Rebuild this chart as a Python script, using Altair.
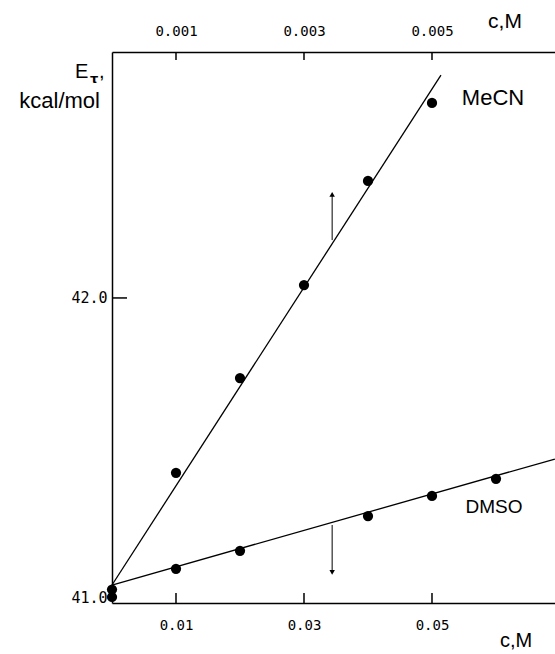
import altair as alt
import pandas as pd

# ---- data ----
mecn_c = [0.0, 0.001, 0.002, 0.003, 0.004, 0.005]          # top axis, c (M)
mecn_e = [41.003, 41.417, 41.733, 42.043, 42.39, 42.65]    # E_T, kcal/mol
dmso_c = [0.0, 0.01, 0.02, 0.04, 0.05, 0.06]               # bottom axis, c (M)
dmso_e = [41.028, 41.097, 41.157, 41.273, 41.34, 41.397]
mecn_fit_c = [0.0, 0.00514]
mecn_fit_e = [41.043, 42.743]
dmso_fit_c = [0.0, 0.0692]
dmso_fit_e = [41.043, 41.463]
top_ticks = [0.001, 0.003, 0.005]
bottom_ticks = [0.01, 0.03, 0.05]
y_ticks = [41.0, 42.0]
y_inner_ticks = [42.0]
arrow_c = [0.0344, 0.0344]
arrow_up_e = [42.193, 42.345]
arrow_down_e = [41.243, 41.085]

W, H = 443, 551
MONO = "DejaVu Sans Mono"
SANS = "Liberation Sans"

x_top_scale = alt.Scale(domain=[0, 0.006922], nice=False, zero=False)
x_bot_scale = alt.Scale(domain=[0, 0.06922], nice=False, zero=False)
y_scale = alt.Scale(domain=[40.983, 42.82], nice=False, zero=False)

top_axis = alt.Axis(orient="top", values=top_ticks, format=".3f", ticks=False, grid=False,
                    domainColor="black", domainWidth=1.5, labelFont=MONO, labelFontSize=14,
                    labelColor="black", labelPadding=14, title=None)
bot_axis = alt.Axis(orient="bottom", values=bottom_ticks, format=".2f", ticks=False, grid=False,
                    domainColor="black", domainWidth=1.5, labelFont=MONO, labelFontSize=14,
                    labelColor="black", labelPadding=15, title=None)
y_axis = alt.Axis(orient="left", values=y_ticks, format=".1f", ticks=False, grid=False,
                  domainColor="black", domainWidth=1.5, labelFont=MONO, labelFontSize=15,
                  labelColor="black", labelPadding=5, title=None)

XT = alt.X("c:Q", scale=x_top_scale, axis=top_axis)
XB = alt.X("c:Q", scale=x_bot_scale, axis=bot_axis)
Y = alt.Y("e:Q", scale=y_scale, axis=y_axis)

mecn_df = pd.DataFrame({"c": mecn_c, "e": mecn_e})
dmso_df = pd.DataFrame({"c": dmso_c, "e": dmso_e})
mecn_fit_df = pd.DataFrame({"c": mecn_fit_c, "e": mecn_fit_e})
dmso_fit_df = pd.DataFrame({"c": dmso_fit_c, "e": dmso_fit_e})

# ---- MeCN group (top concentration axis) ----
mecn_pts = alt.Chart(mecn_df).mark_circle(size=105, color="black", opacity=1).encode(x=XT, y=Y)
mecn_line = alt.Chart(mecn_fit_df).mark_line(color="black", strokeWidth=1.3).encode(x=XT, y=Y)
top_tick_marks = alt.Chart(pd.DataFrame({"c": top_ticks})).mark_rule(
    color="black", strokeWidth=1.5).encode(x=XT, y=alt.value(0), y2=alt.value(8))
mecn_group = alt.layer(mecn_line, mecn_pts, top_tick_marks)

# ---- DMSO group (bottom concentration axis) ----
dmso_pts = alt.Chart(dmso_df).mark_circle(size=105, color="black", opacity=1).encode(x=XB, y=Y)
dmso_line = alt.Chart(dmso_fit_df).mark_line(color="black", strokeWidth=1.3).encode(x=XB, y=Y)
bot_tick_marks = alt.Chart(pd.DataFrame({"c": bottom_ticks})).mark_rule(
    color="black", strokeWidth=1.5).encode(x=XB, y=alt.value(H - 10), y2=alt.value(H))
left_tick_marks = alt.Chart(pd.DataFrame({"e": y_inner_ticks})).mark_rule(
    color="black", strokeWidth=1.5).encode(y=Y, x=alt.value(0), x2=alt.value(15))

up_df = pd.DataFrame({"c": arrow_c, "e": arrow_up_e})
down_df = pd.DataFrame({"c": arrow_c, "e": arrow_down_e})
up_shaft = alt.Chart(up_df).mark_line(color="black", strokeWidth=1).encode(x=XB, y=Y)
down_shaft = alt.Chart(down_df).mark_line(color="black", strokeWidth=1).encode(x=XB, y=Y)
up_head = alt.Chart(up_df.tail(1)).mark_point(shape="triangle-up", filled=True, size=30,
                                              color="black", opacity=1).encode(x=XB, y=Y)
down_head = alt.Chart(down_df.tail(1)).mark_point(shape="triangle-down", filled=True, size=30,
                                                  color="black", opacity=1).encode(x=XB, y=Y)

# ---- text labels ----
def label(txt, x, y, size, align="center", weight="normal", font=SANS):
    return alt.Chart(pd.DataFrame({"t": [txt]})).mark_text(
        align=align, baseline="alphabetic", fontSize=size, font=font, fontWeight=weight,
        color="black").encode(x=alt.value(x), y=alt.value(y), text="t:N")

texts = alt.layer(
    label("MeCN", 381, 53, 22),
    label("DMSO", 382, 461, 19),
    label("c,M", 393, -24, 21),
    label("c,M", 404, 595, 20),
    label("E", -37, 26, 20, align="left"),
    label("τ", -22, 31, 13, align="left", weight="bold", font="DejaVu Sans"),
    label(",", -13, 26, 20, align="left"),
    label("kcal/mol", -12, 56, 22, align="right"),
)

dmso_group = alt.layer(dmso_line, dmso_pts, bot_tick_marks, left_tick_marks,
                       up_shaft, down_shaft, up_head, down_head, texts)

chart = alt.layer(mecn_group, dmso_group).resolve_scale(x="independent").properties(
    width=W, height=H,
    autosize=alt.AutoSizeParams(type="none"),
    padding={"left": 112, "top": 52, "right": 0, "bottom": 51},
    background="white",
).configure_view(stroke=None)

chart.save("out.html", embed_options={"renderer": "svg", "actions": False})
